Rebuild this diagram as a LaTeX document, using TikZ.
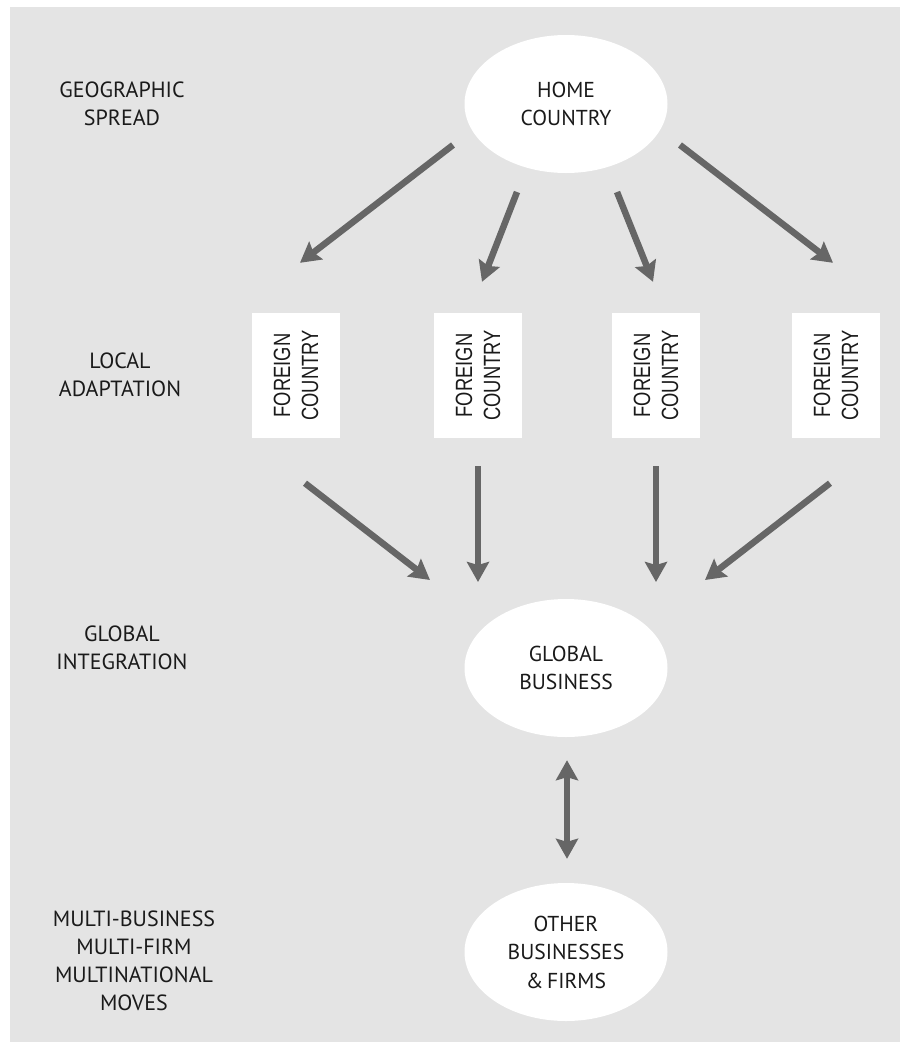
\documentclass[tikz,border=0pt]{standalone}
\usepackage{fontspec}
\setmainfont{PT Sans}
\newfontfamily\narrowsans[FakeStretch=0.78]{Liberation Sans}
\usetikzlibrary{arrows.meta,shapes.geometric}
\definecolor{panel}{HTML}{E4E4E4}
\definecolor{arrowgray}{HTML}{666666}
\definecolor{ink}{HTML}{1A1A1A}

\begin{document}
\begin{tikzpicture}[x=1pt,y=-1pt,
  region/.style={ellipse, fill=white, minimum width=203pt, minimum height=138pt,
    inner sep=0pt, align=center, text=ink, font=\fontsize{21.6}{28.5}\selectfont},
  countrybox/.style={rectangle, fill=white, minimum width=125pt, minimum height=88pt,
    inner sep=0pt, rotate=90, align=center, text=ink,
    font=\narrowsans\fontsize{23.5}{28}\selectfont},
  sidelabel/.style={align=center, text=ink, inner sep=0pt,
    font=\fontsize{22}{28}\selectfont},
  tip/.tip={Stealth[length=20pt,width=22pt,inset=3pt]},
  flow/.style={draw=arrowgray, line width=6.5pt, -tip},
  bothways/.style={draw=arrowgray, line width=6.5pt, tip-tip}
]
% page and grey panel
\useasboundingbox (0,0) rectangle (900,1042);
\fill[panel] (10,7) rectangle (900,1042);

% level captions
\node[sidelabel] (capspread) at (122,104) {GEOGRAPHIC\\SPREAD};
\node[sidelabel] (caplocal)  at (120,375) {LOCAL\\ADAPTATION};
\node[sidelabel] (capglobal) at (122,648) {GLOBAL\\INTEGRATION};
\node[sidelabel] (capmulti)  at (134,961) {MULTI-BUSINESS\\MULTI-FIRM\\MULTINATIONAL\\MOVES};

% main nodes
\node[region] (home)   at (566,104) {HOME\\COUNTRY};
\node[countrybox] (f1) at (296,375.5) {FOREIGN\\COUNTRY};
\node[countrybox] (f2) at (478,375.5) {FOREIGN\\COUNTRY};
\node[countrybox] (f3) at (656,375.5) {FOREIGN\\COUNTRY};
\node[countrybox] (f4) at (836,375.5) {FOREIGN\\COUNTRY};
\node[region] (global) at (566,668) {GLOBAL\\BUSINESS};
\node[region] (other)  at (566,952) {OTHER\\BUSINESSES\\\&\,FIRMS};

% home country spreading out to the foreign countries
\draw[flow] ([shift={(-113,41)}]home.center) -- ([shift={(4,-50)}]f1.east);
\draw[flow] ([shift={(-49,88)}]home.center)  -- ([shift={(4,-31)}]f2.east);
\draw[flow] ([shift={(51,88)}]home.center)   -- ([shift={(-3,-31)}]f3.east);
\draw[flow] ([shift={(114,41)}]home.center)  -- ([shift={(-3,-50)}]f4.east);

% foreign countries feeding the global business
\draw[flow] ([shift={(9,45)}]f1.west)  -- ([shift={(-136,-88)}]global.center);
\draw[flow] ([shift={(0,28)}]f2.west)  -- ([shift={(-88,-86)}]global.center);
\draw[flow] ([shift={(0,28)}]f3.west)  -- ([shift={(90,-86)}]global.center);
\draw[flow] ([shift={(-6,45)}]f4.west) -- ([shift={(139,-88)}]global.center);

% exchange with other businesses and firms
\draw[bothways] ([shift={(1,23)}]global.south) -- ([shift={(1,-24)}]other.north);
\end{tikzpicture}
\end{document}
